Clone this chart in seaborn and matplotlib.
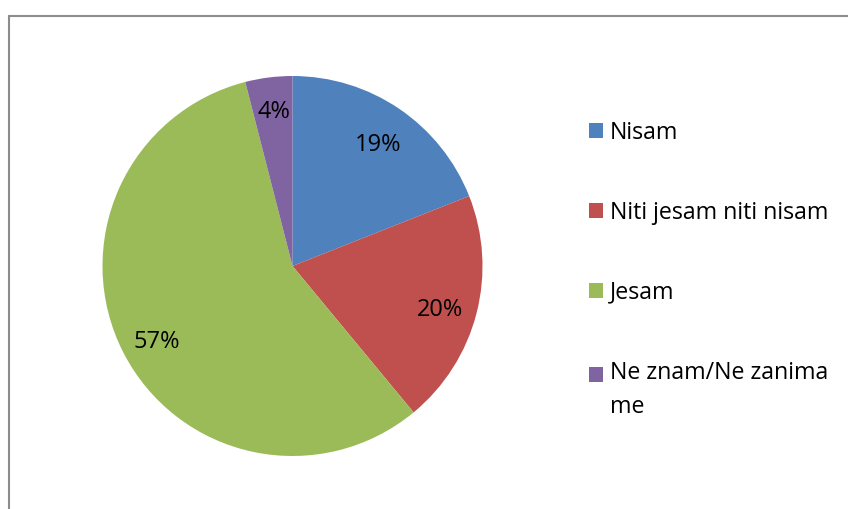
import matplotlib
matplotlib.use("Agg")
import matplotlib.pyplot as plt
import matplotlib.patches as mpatches
from matplotlib.transforms import offset_copy
import seaborn as sns

categories = ["Nisam", "Niti jesam niti nisam", "Jesam", "Ne znam/Ne zanima\nme"]
values = [19, 20, 57, 4]
colors = ["#4F81BD", "#C0504D", "#9BBB59", "#8064A2"]

sns.set_theme(style="white")
plt.rcParams["font.family"] = ["Open Sans", "DejaVu Sans"]
plt.rcParams["text.color"] = "black"

W, H = 848, 509
fig = plt.figure(figsize=(W / 100, H / 100), dpi=100)
fig.patch.set_facecolor("white")

cx, cy, r = 292.5, 266, 190
ax = fig.add_axes([(cx - r) / W, 1 - (cy + r) / H, 2 * r / W, 2 * r / H])
wedges, texts, autotexts = ax.pie(
    values, colors=colors, startangle=90, counterclock=False,
    autopct=lambda p: f"{p:.0f}%", pctdistance=0.8, radius=1,
    wedgeprops=dict(linewidth=0),
    textprops=dict(fontsize=17, color="black"))
ax.set_xlim(-1, 1)
ax.set_ylim(-1, 1)
ax.set_aspect("equal")
ax.axis("off")

# small vertical nudges of the percentage labels (Excel-like placement)
label_dy = [-5, -6, -7, 3]
for t, dy in zip(autotexts, label_dy):
    t.set_transform(offset_copy(ax.transData, fig=fig, x=0, y=dy, units="dots"))

fs = 16.7
leg = fig.legend(wedges, categories, loc="upper left",
                 bbox_to_anchor=(589 / W, 1 - 121 / H), frameon=False,
                 fontsize=fs, handlelength=0.6, handleheight=0.6,
                 handletextpad=0.3, labelspacing=2.41, borderaxespad=0,
                 borderpad=0, labelcolor="black")
for t in leg.get_texts():
    t.set_linespacing(1.58)

# align the marker of the two-line entry with its first line
h = leg.legend_handles[3]
h.set_y(h.get_y() + 33 / 2 * 72 / 100)

# outer chart border (partly clipped by the image edges)
border = mpatches.Rectangle((8.5 / W, -0.05), 1.1, 1 - 15.5 / H + 0.05,
                            transform=fig.transFigure, fill=False,
                            edgecolor="#8C8C8C", linewidth=1.5, clip_on=False)
fig.patches.append(border)

fig.savefig("out.png", dpi=100)
